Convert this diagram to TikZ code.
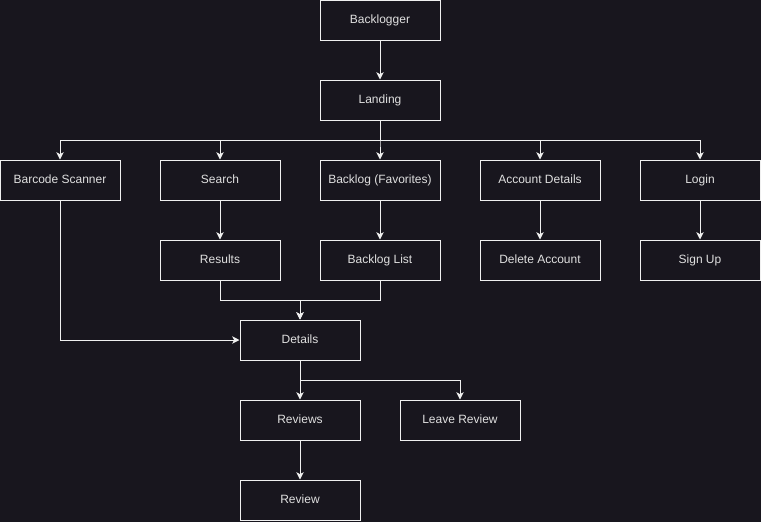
\documentclass[tikz,border=0pt]{standalone}
\usepackage{fontspec}
\setmainfont{Liberation Sans}
\usetikzlibrary{arrows.meta}

\definecolor{bgdark}{HTML}{18161E}
\definecolor{boxline}{HTML}{F0F0F0}
\definecolor{boxtext}{HTML}{E0E0E0}

\begin{document}
\begin{tikzpicture}[x=0.75pt, y=-0.75pt,
    screen/.style={draw=boxline, line width=0.75pt, minimum width=90pt, minimum height=30pt,
        inner sep=0pt, text height=7.8pt, text depth=1.9pt, text=boxtext, font=\fontsize{9}{11}\selectfont},
    arr/.style={draw=boxline, line width=0.75pt, -{Stealth[length=5.5pt, width=5.5pt, inset=1.5pt]}}]
    % Background of the page
    \fill[bgdark] (0,0) rectangle (761,522);
    \useasboundingbox (0,0) rectangle (761,522);

    % Top of the tree
    \node[screen] (back) at (380,20) {Backlogger};
    \node[screen] (land) at (380,100) {Landing};

    % Screens reached from the landing page
    \node[screen] (bar) at (60,180) {Barcode Scanner};
    \node[screen] (srch) at (220,180) {Search};
    \node[screen] (fav) at (380,180) {Backlog (Favorites)};
    \node[screen] (acct) at (540,180) {Account Details};
    \node[screen] (login) at (700,180) {Login};

    % Second level
    \node[screen] (res) at (220,260) {Results};
    \node[screen] (blist) at (380,260) {Backlog List};
    \node[screen] (del) at (540,260) {Delete Account};
    \node[screen] (sign) at (700,260) {Sign Up};

    % Details and reviews
    \node[screen] (det) at (300,340) {Details};
    \node[screen] (revs) at (300,420) {Reviews};
    \node[screen] (leave) at (460,420) {Leave Review};
    \node[screen] (rev) at (300,500) {Review};

    % Connectors
    \draw[arr] (back) -- (land);
    \foreach \n in {bar,srch,fav,acct,login}
        \draw[arr] (land.south) -- ++(0,20) -| (\n.north);
    \draw[arr] (srch) -- (res);
    \draw[arr] (fav) -- (blist);
    \draw[arr] (acct) -- (del);
    \draw[arr] (login) -- (sign);
    \draw[arr] (res.south) -- ++(0,20) -| (det.north);
    \draw[arr] (blist.south) -- ++(0,20) -| (det.north);
    \draw[arr] (bar.south) |- (det.west);
    \draw[arr] (det) -- (revs);
    \draw[arr] (det.south) -- ++(0,20) -| (leave.north);
    \draw[arr] (revs) -- (rev);
\end{tikzpicture}
\end{document}
